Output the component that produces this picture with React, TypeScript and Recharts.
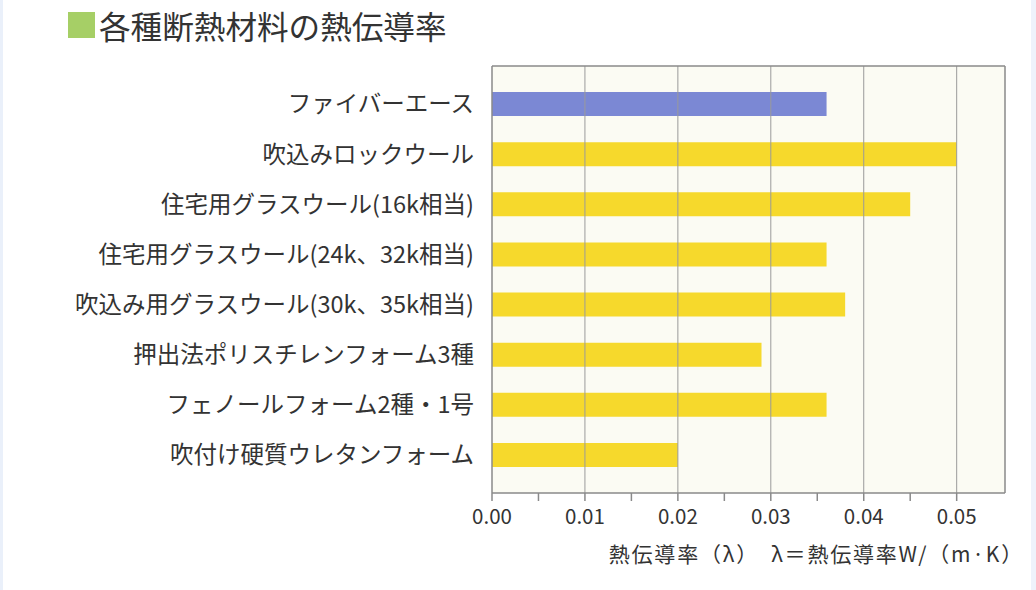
import React from "react";
import { BarChart, Bar, XAxis, YAxis, CartesianGrid, ReferenceLine, Cell } from "recharts";

const categories = [
  "ファイバーエース",
  "吹込みロックウール",
  "住宅用グラスウール(16k相当)",
  "住宅用グラスウール(24k、32k相当)",
  "吹込み用グラスウール(30k、35k相当)",
  "押出法ポリスチレンフォーム3種",
  "フェノールフォーム2種・1号",
  "吹付け硬質ウレタンフォーム",
];
const conductivity = [0.036, 0.05, 0.045, 0.036, 0.038, 0.029, 0.036, 0.02];
const highlightCategory = "ファイバーエース";
const xTicks = [0, 0.005, 0.01, 0.015, 0.02, 0.025, 0.03, 0.035, 0.04, 0.045, 0.05];
const gridValues = [0.01, 0.02, 0.03, 0.04, 0.05];
const xMax = 0.0552;
const title = "各種断熱材料の熱伝導率";
const axisTitle = "熱伝導率（λ）　λ＝熱伝導率W/（m·K）";

const data = categories.map((name, i) => ({ name, value: conductivity[i] }));

const FONT = "'Noto Sans CJK JP', 'Noto Sans', sans-serif";
const BLUE = "#7b88d4";
const YELLOW = "#f6d92c";
const AXIS = "#8a8a8a";

export default function App() {
  return (
    <div
      style={{
        position: "fixed",
        left: 0,
        top: 0,
        width: 1036,
        height: 590,
        background: "#ffffff",
        fontFamily: FONT,
        overflow: "hidden",
      }}
    >
      <div style={{ position: "absolute", left: 0, top: 0, width: 3, height: 590, background: "#eaf0fa" }} />
      <div style={{ position: "absolute", left: 1031, top: 0, width: 5, height: 590, background: "#eef2fb" }} />
      <div
        style={{
          position: "absolute",
          left: 68,
          top: 12,
          width: 27,
          height: 26,
          background: "#a6cf66",
        }}
      />
      <div
        style={{
          position: "absolute",
          left: 99,
          top: 3,
          fontSize: 31.6,
          lineHeight: "44px",
          color: "#333",
          whiteSpace: "nowrap",
        }}
      >
        {title}
      </div>
      <div style={{ position: "absolute", left: 0, top: 0 }}>
        <BarChart
          width={1036}
          height={590}
          data={data}
          layout="vertical"
          margin={{ top: 65, right: 30, bottom: 67, left: 0 }}
        >
          <CartesianGrid horizontal={false} vertical={false} fill="#fbfbf3" stroke="none" />
          {gridValues.map((v) => (
            <ReferenceLine key={v} x={v} stroke="#9a9a9a" strokeWidth={1} />
          ))}
          <XAxis
            type="number"
            domain={[0, xMax]}
            ticks={xTicks}
            allowDataOverflow
            tickFormatter={(v: number) => (Math.round(v * 1000) % 10 === 0 ? v.toFixed(2) : "")}
            axisLine={{ stroke: AXIS, strokeWidth: 1.5 }}
            tickLine={{ stroke: AXIS, strokeWidth: 1.5 }}
            tickSize={8}
            tickMargin={8}
            height={30}
            tick={{ fontSize: 20.5, fill: "#333", fontFamily: FONT }}
          />
          <XAxis
            xAxisId="top"
            orientation="top"
            type="number"
            domain={[0, xMax]}
            allowDataOverflow
            tick={false}
            tickLine={false}
            axisLine={{ stroke: AXIS, strokeWidth: 1.5 }}
            height={1}
          />
          <YAxis
            type="category"
            dataKey="name"
            width={492}
            interval={0}
            padding={{ top: 13, bottom: 13 }}
            axisLine={{ stroke: AXIS, strokeWidth: 1.5 }}
            tickLine={false}
            tickSize={0}
            tickMargin={18}
            tick={{ fontSize: 23.5, fill: "#333", fontFamily: FONT }}
          />
          <YAxis
            yAxisId="right"
            orientation="right"
            type="category"
            dataKey="name"
            width={1}
            tick={false}
            tickLine={false}
            axisLine={{ stroke: AXIS, strokeWidth: 1.5 }}
          />
          <Bar dataKey="value" barSize={24} isAnimationActive={false}>
            {data.map((d) => (
              <Cell key={d.name} fill={d.name === highlightCategory ? BLUE : YELLOW} />
            ))}
          </Bar>
        </BarChart>
      </div>
      <div
        style={{
          position: "absolute",
          right: 12,
          top: 538,
          fontSize: 21,
          letterSpacing: 1.8,
          lineHeight: "30px",
          color: "#333",
          whiteSpace: "nowrap",
        }}
      >
        {axisTitle}
      </div>
    </div>
  );
}
